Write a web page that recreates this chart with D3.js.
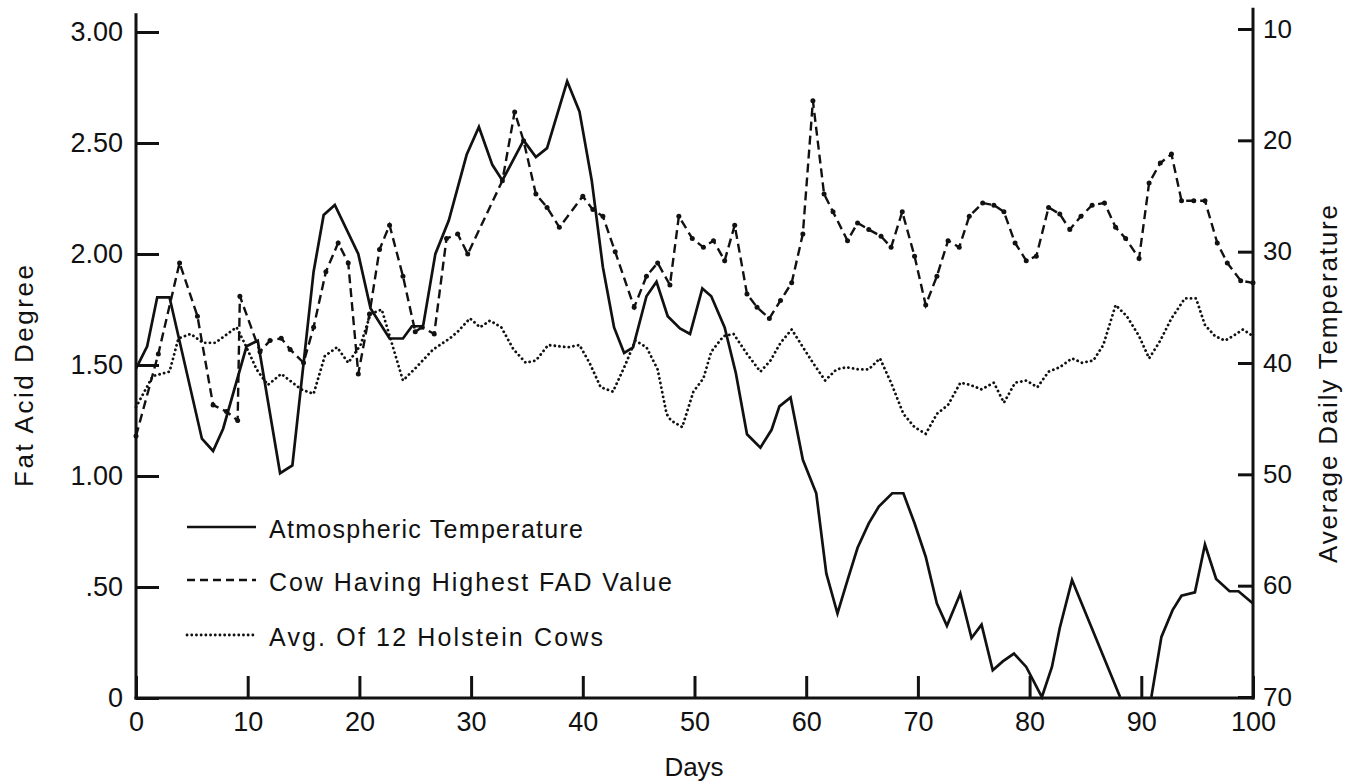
<!DOCTYPE html>
<html><head><meta charset="utf-8">
<script src="https://cdn.jsdelivr.net/npm/d3@7"></script>
<style>
body{margin:0;background:#fff;}
svg{display:block;background:#fff;}
text{font-family:"Liberation Sans",Arial,sans-serif;fill:#111;}
</style></head><body>
<svg id="chart" width="1356" height="784"></svg>
<script>
// ---- data ----
const tempDays=[0,1,1.9,3,5.9,6.9,7.8,9.9,10.9,12.9,14,15.9,16.8,17.8,19.9,21,22.7,23.9,24.7,25.7,26.8,28,29.6,30.7,31.9,32.8,34.7,35.8,36.8,38.6,39.7,40.8,41.8,42.8,43.7,44.5,45.7,46.6,47.6,48.7,49.6,50.7,51.5,52.7,53.7,54.7,55.9,56.9,57.6,58.6,59.7,60.9,61.8,62.8,63.7,64.6,65.6,66.5,67.7,68.7,69.7,70.7,71.7,72.6,73.8,74.8,75.7,76.7,77.6,78.6,79.7,81.1,82.0,82.7,83.8,88.1,89.5,90.9,91.8,92.8,93.6,94.8,95.7,96.7,97.9,98.7,100];
const tempValues=[40.5,38.5,34.1,34.1,46.8,47.9,45.9,38.5,38.0,49.9,49.2,31.8,26.7,25.8,30.2,35.1,37.8,37.8,36.7,36.7,30.2,27.2,21.3,18.8,22.2,23.6,20.0,21.5,20.7,14.7,17.4,23.6,31.4,36.8,39.1,38.6,34.0,32.7,35.8,36.9,37.4,33.3,34.0,36.8,40.9,46.4,47.6,46.0,43.9,43.1,48.7,51.7,58.9,62.5,59.5,56.6,54.4,52.9,51.7,51.7,54.4,57.4,61.6,63.6,60.7,64.7,63.5,67.6,66.8,66.1,67.3,70,67.3,63.8,59.5,70,null,70,64.6,62.2,60.9,60.6,56.3,59.4,60.5,60.5,61.6];

const cowDays=[0,2,3.9,5.5,6.9,8.1,9.1,9.3,11.1,12,13,13.8,15,15.9,17,18.1,19,19.9,20.9,21.8,22.7,23.9,25,25.6,26.7,27.8,28.8,29.7,32.8,33.9,34.7,35.8,36.8,37.9,40,40.9,41.8,42.9,44.6,45.7,46.7,47.8,48.6,49.8,50.8,51.7,52.7,53.6,54.7,55.6,56.7,57.7,58.7,59.7,60.6,61.6,62.4,63.7,64.6,65.6,66.7,67.6,68.6,69.7,70.7,71.7,72.7,73.7,74.6,75.8,76.8,77.7,78.7,79.7,80.6,81.7,82.7,83.6,84.6,85.6,86.7,87.7,88.6,89.8,90.7,91.7,92.7,93.6,94.7,95.7,96.8,97.7,98.9,100];
const cowValues=[1.18,1.55,1.96,1.72,1.32,1.29,1.25,1.81,1.56,1.61,1.62,1.57,1.51,1.67,1.92,2.05,1.96,1.46,1.73,2.02,2.13,1.90,1.65,1.67,1.64,2.07,2.09,2.00,2.33,2.64,2.51,2.27,2.21,2.12,2.26,2.20,2.17,2.01,1.76,1.90,1.96,1.86,2.17,2.07,2.03,2.06,1.97,2.13,1.82,1.76,1.71,1.79,1.87,2.09,2.69,2.27,2.19,2.06,2.14,2.11,2.08,2.03,2.19,1.99,1.77,1.90,2.06,2.03,2.17,2.23,2.22,2.19,2.05,1.97,1.99,2.21,2.18,2.11,2.17,2.22,2.23,2.12,2.07,1.98,2.32,2.41,2.45,2.24,2.24,2.24,2.05,1.96,1.88,1.87];

const avgDays=[0,1.5,3,3.8,4.9,6,7.1,9,9.8,10.8,11.8,13,14.8,15.9,16.9,18,19,20.1,21,22,23.9,25.1,26.6,28.1,28.8,29.9,30.8,31.7,32.7,33.8,34.9,35.8,36.9,38.7,39.7,40.6,41.6,42.7,43.8,44.7,45.7,46.7,47.5,47.9,48.9,49.9,50.8,51.5,52.6,53.5,54.7,55.9,56.8,57.7,58.7,60.6,61.7,62.7,63.6,64.7,65.6,66.6,67.6,68.7,69.7,70.7,71.7,72.7,73.8,74.7,75.7,76.8,77.7,78.7,79.7,80.7,81.7,82.7,83.8,84.7,85.7,86.6,87.7,88.7,89.8,90.7,91.7,92.7,93.9,94.9,95.7,96.6,97.5,98.2,99.1,100];
const avgValues=[1.31,1.45,1.47,1.62,1.64,1.60,1.60,1.67,1.59,1.48,1.41,1.46,1.39,1.37,1.54,1.58,1.51,1.59,1.73,1.75,1.43,1.49,1.57,1.62,1.65,1.71,1.67,1.70,1.67,1.57,1.51,1.52,1.59,1.58,1.59,1.51,1.40,1.38,1.50,1.61,1.58,1.48,1.28,1.25,1.22,1.38,1.44,1.56,1.63,1.64,1.55,1.47,1.52,1.60,1.66,1.51,1.43,1.48,1.49,1.48,1.48,1.53,1.42,1.28,1.22,1.19,1.28,1.32,1.42,1.41,1.39,1.42,1.33,1.42,1.43,1.40,1.47,1.49,1.53,1.51,1.52,1.59,1.77,1.72,1.63,1.53,1.61,1.71,1.80,1.80,1.68,1.63,1.61,1.63,1.66,1.63];

const leftTicks=[0,0.5,1,1.5,2,2.5,3];
const leftTickLabels=["0",".50","1.00","1.50","2.00","2.50","3.00"];
const rightTicks=[10,20,30,40,50,60,70];
const dayTicks=[0,10,20,30,40,50,60,70,80,90,100];
const legendLabels=["Atmospheric Temperature","Cow Having Highest FAD Value","Avg. Of 12 Holstein Cows"];
const xTitle="Days", yLeftTitle="Fat  Acid  Degree", yRightTitle="Average  Daily  Temperature";

// ---- drawing ----
const svg=d3.select("#chart");
const x=d3.scaleLinear().domain([0,100]).range([136,1253]);
const yL=d3.scaleLinear().domain([0,3]).range([698,32]);
const yR=d3.scaleLinear().domain([70,10]).range([697,29]);
const INK="#111";
const FS=27;

function styleAxis(g){
  g.attr("font-family",null).attr("font-size",null);
  g.selectAll(".tick line").attr("stroke",INK).attr("stroke-width",3);
  g.selectAll(".tick text").attr("fill",INK).style("font-size",FS+"px");
  g.select(".domain").remove();
}

// left axis
const gL=svg.append("g").attr("transform",`translate(${x(0)},0)`)
  .call(d3.axisLeft(yL).tickValues(leftTicks).tickFormat((d,i)=>leftTickLabels[i]).tickSize(-23).tickSizeOuter(0).tickPadding(13));
styleAxis(gL);
svg.append("line").attr("x1",x(0)).attr("x2",x(0)).attr("y1",yL(3.085)).attr("y2",yL(0)+1.5)
  .attr("stroke",INK).attr("stroke-width",3);

// right axis
const gR=svg.append("g").attr("transform",`translate(${x(100)},0)`)
  .call(d3.axisRight(yR).tickValues(rightTicks).tickSize(-15).tickSizeOuter(0).tickPadding(10));
styleAxis(gR);
gR.selectAll(".tick text").style("font-size","26px");
svg.append("line").attr("x1",x(100)).attr("x2",x(100)).attr("y1",yR(8.1)).attr("y2",yL(0)+1.5)
  .attr("stroke",INK).attr("stroke-width",3);

// bottom axis
const gB=svg.append("g").attr("transform",`translate(0,${yL(0)})`)
  .call(d3.axisBottom(x).tickValues(dayTicks).tickFormat(d3.format("d")).tickSize(-22).tickSizeOuter(0).tickPadding(14));
styleAxis(gB);
svg.append("line").attr("x1",x(0)-1.5).attr("x2",x(100)+1.5).attr("y1",yL(0)).attr("y2",yL(0))
  .attr("stroke",INK).attr("stroke-width",3);

// series
const lineT=d3.line().defined(d=>d[1]!=null).x(d=>x(d[0])).y(d=>yR(d[1]));
const lineL=d3.line().x(d=>x(d[0])).y(d=>yL(d[1]));

const avgData=d3.zip(avgDays,avgValues);
const cowData=d3.zip(cowDays,cowValues);
const tempData=d3.zip(tempDays,tempValues);

svg.append("path").datum(avgData).attr("d",lineL).attr("fill","none")
  .attr("stroke",INK).attr("stroke-width",2.8).attr("stroke-linecap","round")
  .attr("stroke-dasharray","0.1,4.6");

svg.append("path").datum(cowData).attr("d",lineL).attr("fill","none")
  .attr("stroke",INK).attr("stroke-width",2.4).attr("stroke-dasharray","9,5");
svg.append("g").selectAll("circle").data(cowData).join("circle")
  .attr("cx",d=>x(d[0])).attr("cy",d=>yL(d[1])).attr("r",2.5).attr("fill",INK);

svg.append("path").datum(tempData).attr("d",lineT).attr("fill","none")
  .attr("stroke",INK).attr("stroke-width",2.7).attr("stroke-linejoin","miter");

// legend
const legY=[527,580,635];
const legStyles=[
  {w:2.7,dash:null,cap:"butt"},
  {w:2.4,dash:"8,5",cap:"butt"},
  {w:2.8,dash:"0.1,4.6",cap:"round"}
];
const legLens=[314,403,334];
const leg=svg.append("g");
legendLabels.forEach((lab,i)=>{
  leg.append("line").attr("x1",187).attr("x2",256).attr("y1",legY[i]).attr("y2",legY[i])
    .attr("stroke",INK).attr("stroke-width",legStyles[i].w)
    .attr("stroke-dasharray",legStyles[i].dash).attr("stroke-linecap",legStyles[i].cap);
  leg.append("text").attr("x",269).attr("y",legY[i]+11).text(lab)
    .style("font-size","25px").attr("textLength",legLens[i]).attr("lengthAdjust","spacing");
});

// axis titles
svg.append("text").attr("x",694).attr("y",776).attr("text-anchor","middle")
  .style("font-size","26px").text(xTitle);
svg.append("text").attr("transform","translate(33,376) rotate(-90)").attr("text-anchor","middle")
  .style("font-size","26px").attr("textLength",222).attr("lengthAdjust","spacing").text(yLeftTitle);
svg.append("text").attr("transform","translate(1337,384) rotate(-90)").attr("text-anchor","middle")
  .style("font-size","26px").attr("textLength",358).attr("lengthAdjust","spacing").text(yRightTitle);
</script>
</body></html>
